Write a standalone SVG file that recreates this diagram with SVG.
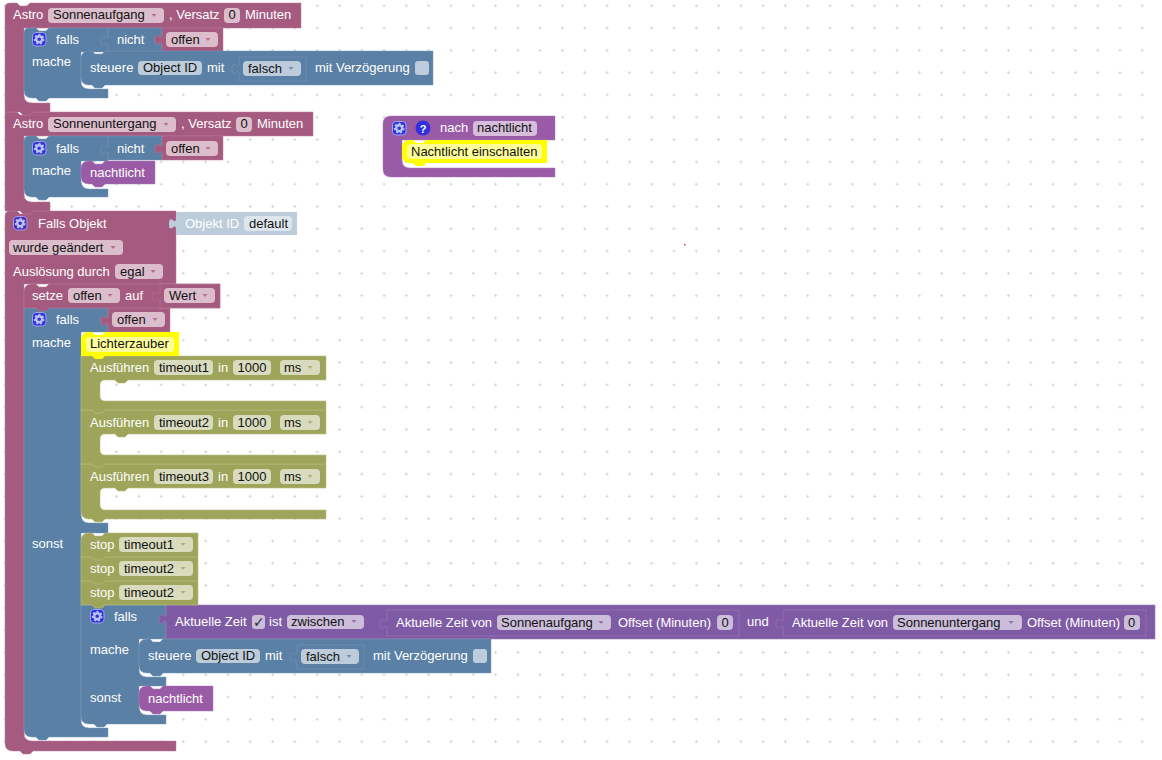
<svg xmlns="http://www.w3.org/2000/svg" width="1162" height="760" viewBox="0 0 1162 760">
<style>
text{font-family:"Liberation Sans",Arial,sans-serif;font-size:13px;fill:#fff}
text.d{fill:#111}
text.c{font-family:"DejaVu Sans",sans-serif;font-size:14px;fill:#333}
.pk{fill:#a55b80;stroke:#b87a9a;stroke-width:.5}
.bl{fill:#5b80a5;stroke:#7a99b8;stroke-width:.5}
.ol{fill:#9ea55b;stroke:#b9bd84;stroke-width:.6}
.pu{fill:#995ba5;stroke:#ad7ab8;stroke-width:.5}
.ti{fill:#805ba5;stroke:#9a7cb8;stroke-width:.6}
.ye{fill:#ff0}
.pa{fill:#bdccdb}
.fpk{fill:#dbbdcc}.fbl{fill:#bdccdb}.fol{fill:#d8dbbd}.fpu{fill:#d6bddb}.fti{fill:#ccbddb}.fye{fill:#ff9}.fpa{fill:#dee6ed}
.apk{fill:#a55b80;opacity:.75}.abl{fill:#5b80a5;opacity:.75}.aol{fill:#9ea55b;opacity:.75}.ati{fill:#805ba5;opacity:.75}
.gb{fill:#3030e0;stroke:#9aa6e8;stroke-width:1}
.gc{fill:none;stroke:#b8c4f0;stroke-width:2.4}
.gt{fill:none;stroke:#b8c4f0;stroke-width:2;stroke-dasharray:2 1.9}
</style>
<defs>
<pattern id="grid" patternUnits="userSpaceOnUse" x="3.5" y="4.3" width="22.3" height="22.3">
<path d="M0 1.5H3M1.5 0V3" stroke="#d4d4d4" stroke-width="1" fill="none"/>
</pattern>
<g id="gear"><rect class="gb" x=".5" y=".5" width="13.5" height="13.5" rx="3.5"/><circle class="gt" cx="7.2" cy="7.2" r="4.4"/><circle class="gc" cx="7.2" cy="7.2" r="3"/></g>
<g id="gear2"><rect x=".5" y=".5" width="13.5" height="13.5" rx="3.5" fill="#4b2fc4" stroke="#a99ae0"/><circle class="gt" cx="7.2" cy="7.2" r="4.4"/><circle class="gc" cx="7.2" cy="7.2" r="3"/></g>
<path id="arr" d="M.5 0H5.500L3 3Z"/>
</defs>
<rect width="1162" height="760" fill="#fff"/>
<rect width="1162" height="760" fill="url(#grid)"/>
<rect x="684" y="244" width="1.5" height="1.5" fill="#e33"/>

<g id="connectors"></g>

<g id="falls-objekt">
<path class="pk" d="M5 216Q5 211 10 211H17l3 3h7l3-3H176V284H24V733Q24 741 32 741H176V751H33l-3 3h-7l-3-3H13Q5 751 5 743Z"/>
<use href="#gear2" x="13" y="216"/>
<text x="38" y="228">Falls Objekt</text>
<rect class="fpk" x="9" y="240" width="114" height="15" rx="4"/><text class="d" x="13" y="252">wurde geändert</text><use href="#arr" class="apk" x="110" y="246"/>
<text x="13" y="276">Auslösung durch</text>
<rect class="fpk" x="115" y="264" width="48" height="15" rx="4"/><text class="d" x="120" y="276">egal</text><use href="#arr" class="apk" x="150" y="270"/>
</g>
<g id="objekt-id">
<path class="pa" d="M176 212H297V235H176V229c0-8-7 6-7-5s7 2 7-5Z"/>
<text x="185" y="228">Objekt ID</text>
<rect class="fpa" x="244" y="216" width="48" height="15" rx="4"/><text class="d" x="249" y="228">default</text>
</g>

<g id="falls-main">
<path class="bl" d="M24 308H108V332H81V514Q81 523 89 523H108V533H81V720Q81 728 89 728H108V737H49l-3 3h-7l-3-3H32Q24 737 24 729Z"/>
<use href="#gear" x="32" y="312"/>
<text x="56" y="324">falls</text>
<text x="32" y="347">mache</text>
<text x="32" y="548">sonst</text>
</g>
<g id="offen-cond">
<path class="pk" d="M108 308H170V332H108V326c0-8-7 6-7-5s7 2 7-5Z"/>
<rect class="fpk" x="112" y="312" width="53" height="15" rx="4"/><text class="d" x="117" y="324">offen</text><use href="#arr" class="apk" x="152" y="318"/>
</g>
<g id="setze">
<path class="pk" d="M24 292Q24 284 32 284H36l3 3h7l3-3H220V308H49l-3 3h-7l-3-3H24Z"/>
<text x="32" y="300">setze</text>
<rect class="fpk" x="68" y="288" width="52" height="15" rx="4"/><text class="d" x="73" y="300">offen</text><use href="#arr" class="apk" x="107" y="294"/>
<text x="125" y="300">auf</text>
<path class="pk" d="M160 284H220V308H160V302c0-8-7 6-7-5s7 2 7-5Z"/>
<rect class="fpk" x="164" y="288" width="51" height="15" rx="4"/><text class="d" x="169" y="300">Wert</text><use href="#arr" class="apk" x="202" y="294"/>
</g>

<g id="timeout3">
<path class="ol" d="M81 464H326V488H128l-3 3h-7l-3-3H105Q100 488 100 493V505Q100 510 105 510H326V519H105l-3 3h-7l-3-3H89Q81 519 81 511Z"/>
<text x="90" y="481">Ausführen</text>
<rect class="fol" x="154" y="469" width="59" height="15" rx="4"/><text class="d" x="159" y="481">timeout3</text>
<text x="218" y="481">in</text>
<rect class="fol" x="233" y="469" width="38" height="15" rx="4"/><text class="d" x="237.500" y="481">1000</text>
<rect class="fol" x="280" y="469" width="40" height="15" rx="4"/><text class="d" x="284" y="481">ms</text><use href="#arr" class="aol" x="307" y="475"/>
</g>
<g id="timeout2">
<path class="ol" d="M81 410H92l3 3h7l3-3H326V434H128l-3 3h-7l-3-3H105Q100 434 100 439V450Q100 455 105 455H326V464H105l-3 3h-7l-3-3H81Z"/>
<text x="90" y="427">Ausführen</text>
<rect class="fol" x="154" y="415" width="59" height="15" rx="4"/><text class="d" x="159" y="427">timeout2</text>
<text x="218" y="427">in</text>
<rect class="fol" x="233" y="415" width="38" height="15" rx="4"/><text class="d" x="237.500" y="427">1000</text>
<rect class="fol" x="280" y="415" width="40" height="15" rx="4"/><text class="d" x="284" y="427">ms</text><use href="#arr" class="aol" x="307" y="421"/>
</g>
<g id="timeout1">
<path class="ol" d="M81 356H326V380H128l-3 3h-7l-3-3H105Q100 380 100 385V396Q100 401 105 401H326V410H105l-3 3h-7l-3-3H81Z"/>
<text x="90" y="372">Ausführen</text>
<rect class="fol" x="154" y="360" width="59" height="15" rx="4"/><text class="d" x="159" y="372">timeout1</text>
<text x="218" y="372">in</text>
<rect class="fol" x="233" y="360" width="38" height="15" rx="4"/><text class="d" x="237.500" y="372">1000</text>
<rect class="fol" x="280" y="360" width="40" height="15" rx="4"/><text class="d" x="284" y="372">ms</text><use href="#arr" class="aol" x="307" y="366"/>
</g>
<g id="lichterzauber">
<path class="ye" d="M81 340Q81 332 89 332H92l3 3h7l3-3H179V356H105l-3 3h-7l-3-3H81Z"/>
<rect class="fye" x="86" y="337" width="88" height="15" rx="4"/><text class="d" x="90" y="348">Lichterzauber</text>
</g>

<g id="falls-zeit">
<path class="bl" d="M81 605H92l3 3h7l3-3H166V639H139V669Q139 677 147 677H166V686H139V706Q139 715 147 715H166V724H107l-3 3h-7l-3-3H89Q81 724 81 716Z"/>
<use href="#gear" x="90" y="609"/>
<text x="114" y="621">falls</text>
<text x="90" y="654">mache</text>
<text x="90" y="702">sonst</text>
</g>
<g id="zeit-vergleich">
<path class="ti" d="M166 605H1155V639H166V624c0-8-7 6-7-5s7 2 7-5Z"/>
<text x="175" y="626">Aktuelle Zeit</text>
<rect class="fti" x="252" y="615" width="13" height="14" rx="3"/><text class="c" x="253" y="627">✓</text>
<text x="269" y="626">ist</text>
<rect class="fti" x="287" y="615" width="77" height="14" rx="4"/><text class="d" x="291" y="626">zwischen</text><use href="#arr" class="ati" x="351" y="620"/>
<text x="747" y="626">und</text>
</g>
<g id="zeit-auf">
<path class="ti" d="M387 610H739V636H387V629c0-8-7 6-7-5s7 2 7-5Z"/>
<text x="396" y="627">Aktuelle Zeit von</text>
<rect class="fti" x="497" y="615" width="114" height="15" rx="4"/><text class="d" x="501" y="627">Sonnenaufgang</text><use href="#arr" class="ati" x="598" y="621"/>
<text x="618" y="627">Offset (Minuten)</text>
<rect class="fti" x="717" y="615" width="16" height="15" rx="4"/><text class="d" x="721.500" y="627">0</text>
</g>
<g id="zeit-unter">
<path class="ti" d="M783 610H1146V636H783V629c0-8-7 6-7-5s7 2 7-5Z"/>
<text x="792" y="627">Aktuelle Zeit von</text>
<rect class="fti" x="893" y="615" width="129" height="15" rx="4"/><text class="d" x="897" y="627">Sonnenuntergang</text><use href="#arr" class="ati" x="1008" y="621"/>
<text x="1027" y="627">Offset (Minuten)</text>
<rect class="fti" x="1124" y="615" width="16" height="15" rx="4"/><text class="d" x="1128" y="627">0</text>
</g>
<g id="steuere-2" transform="translate(58 588)">
<path class="bl" d="M81 59Q81 51 89 51H92l3 3h7l3-3H433V85H105l-3 3h-7l-3-3H89Q81 85 81 77Z"/>
<text x="90" y="72">steuere</text>
<rect class="fbl" x="138" y="61" width="64" height="14" rx="4"/><text class="d" x="143" y="72">Object ID</text>
<text x="207" y="72">mit</text>
<path class="bl" d="M239 57H306V81H239V74c0-8-7 6-7-5s7 2 7-5Z"/>
<rect class="fbl" x="243" y="61" width="58" height="15" rx="4"/><text class="d" x="248" y="73">falsch</text><use href="#arr" class="abl" x="288" y="67"/>
<text x="315" y="72">mit Verzögerung</text>
<rect class="fbl" x="415" y="61" width="14" height="14" rx="3"/>
</g>
<g id="nachtlicht-3">
<path class="pu" d="M139 694Q139 686 147 686H150l3 3h7l3-3H213V711H163l-3 3h-7l-3-3H147Q139 711 139 703Z"/>
<text x="148" y="703">nachtlicht</text>
</g>
<g id="stop-3">
<path class="ol" d="M81 581H198V605H105l-3 3h-7l-3-3H81Z"/>
<text x="90" y="597">stop</text>
<rect class="fol" x="119" y="585" width="74" height="15" rx="4"/><text class="d" x="124" y="597">timeout2</text><use href="#arr" class="aol" x="180" y="591"/>
</g>
<g id="stop-2">
<path class="ol" d="M81 557H198V581H105l-3 3h-7l-3-3H81Z"/>
<text x="90" y="573">stop</text>
<rect class="fol" x="119" y="561" width="74" height="15" rx="4"/><text class="d" x="124" y="573">timeout2</text><use href="#arr" class="aol" x="180" y="567"/>
</g>
<g id="stop-1">
<path class="ol" d="M81 541Q81 533 89 533H92l3 3h7l3-3H198V557H105l-3 3h-7l-3-3H81Z"/>
<text x="90" y="549">stop</text>
<rect class="fol" x="119" y="537" width="74" height="15" rx="4"/><text class="d" x="124" y="549">timeout1</text><use href="#arr" class="aol" x="180" y="543"/>
</g>

<g id="astro-2">
<path class="pk" d="M5 112H17l3 3h7l3-3H313V136H24V194Q24 202 32 202H50V211H33l-3 3h-7l-3-3H5Z"/>
<text x="13" y="128">Astro</text>
<rect class="fpk" x="48" y="117" width="128" height="15" rx="4"/><text class="d" x="53" y="128">Sonnenuntergang</text><use href="#arr" class="apk" x="163" y="123"/>
<text x="181" y="128">, Versatz</text>
<rect class="fpk" x="236" y="117" width="16" height="15" rx="4"/><text class="d" x="240.500" y="128">0</text>
<text x="257" y="128">Minuten</text>
</g>
<g id="falls-2">
<path class="bl" d="M24 141Q24 136 29 136H36l3 3h7l3-3H108V161H81V180Q81 189 89 189H108V197H49l-3 3h-7l-3-3H32Q24 197 24 189Z"/>
<use href="#gear" x="32" y="141"/>
<text x="56" y="153">falls</text>
<text x="32" y="175">mache</text>
</g>
<g id="nicht-2">
<path class="bl" d="M108 136H162V160H108V155c0-8-7 6-7-5s7 2 7-5Z"/>
<text x="117" y="153">nicht</text>
<path class="pk" d="M162 136H223V160H162V154c0-8-7 6-7-5s7 2 7-5Z"/>
<rect class="fpk" x="166" y="141" width="52" height="15" rx="4"/><text class="d" x="171" y="153">offen</text><use href="#arr" class="apk" x="205" y="147"/>
</g>
<g id="nachtlicht-2">
<path class="pu" d="M81 169Q81 161 89 161H92l3 3h7l3-3H155V184H105l-3 3h-7l-3-3H89Q81 184 81 176Z"/>
<text x="90" y="177">nachtlicht</text>
</g>

<g id="astro-1">
<path class="pk" d="M5 8Q5 3 10 3H17l3 3h7l3-3H301V28H24V95Q24 103 32 103H50V112H33l-3 3h-7l-3-3H5Z"/>
<text x="13" y="19">Astro</text>
<rect class="fpk" x="48" y="8" width="116" height="15" rx="4"/><text class="d" x="53" y="19">Sonnenaufgang</text><use href="#arr" class="apk" x="151" y="14"/>
<text x="169" y="19">, Versatz</text>
<rect class="fpk" x="224" y="8" width="16" height="15" rx="4"/><text class="d" x="228.500" y="19">0</text>
<text x="245" y="19">Minuten</text>
</g>
<g id="falls-1">
<path class="bl" d="M24 33Q24 28 29 28H36l3 3h7l3-3H108V52H81V81Q81 89 89 89H108V98H49l-3 3h-7l-3-3H32Q24 98 24 90Z"/>
<use href="#gear" x="32" y="32"/>
<text x="56" y="44">falls</text>
<text x="32" y="66">mache</text>
</g>
<g id="nicht-1">
<path class="bl" d="M108 28H162V52H108V46c0-8-7 6-7-5s7 2 7-5Z"/>
<text x="117" y="44">nicht</text>
<path class="pk" d="M162 28H223V52H162V45c0-8-7 6-7-5s7 2 7-5Z"/>
<rect class="fpk" x="166" y="32" width="52" height="15" rx="4"/><text class="d" x="171" y="44">offen</text><use href="#arr" class="apk" x="205" y="38"/>
</g>
<g id="steuere-1">
<path class="bl" d="M81 59Q81 51 89 51H92l3 3h7l3-3H433V85H105l-3 3h-7l-3-3H89Q81 85 81 77Z"/>
<text x="90" y="72">steuere</text>
<rect class="fbl" x="138" y="61" width="64" height="14" rx="4"/><text class="d" x="143" y="72">Object ID</text>
<text x="207" y="72">mit</text>
<path class="bl" d="M239 57H306V81H239V74c0-8-7 6-7-5s7 2 7-5Z"/>
<rect class="fbl" x="243" y="61" width="58" height="15" rx="4"/><text class="d" x="248" y="73">falsch</text><use href="#arr" class="abl" x="288" y="67"/>
<text x="315" y="72">mit Verzögerung</text>
<rect class="fbl" x="415" y="61" width="14" height="14" rx="3"/>
</g>

<g id="nach">
<path class="pu" d="M383 124Q383 116 391 116H555V140H402V160Q402 168 410 168H555V177H391Q383 177 383 169Z"/>
<use href="#gear" x="392" y="121"/>
<circle cx="423" cy="128" r="7.500" fill="#3030e0"/><text x="423" y="132.500" text-anchor="middle" style="font-size:11px;font-weight:bold">?</text>
<text x="440" y="132">nach</text>
<rect class="fpu" x="473" y="121" width="64" height="15" rx="4"/><text class="d" x="477" y="132">nachtlicht</text>
</g>
<g id="nachtlicht-kommentar">
<path class="ye" d="M402 148Q402 140 410 140H413l3 3h7l3-3H547V163H426l-3 3h-7l-3-3H410Q402 163 402 155Z"/>
<rect class="fye" x="407" y="144" width="135" height="15" rx="4"/><text class="d" x="411" y="156">Nachtlicht einschalten</text>
</g>
</svg>
